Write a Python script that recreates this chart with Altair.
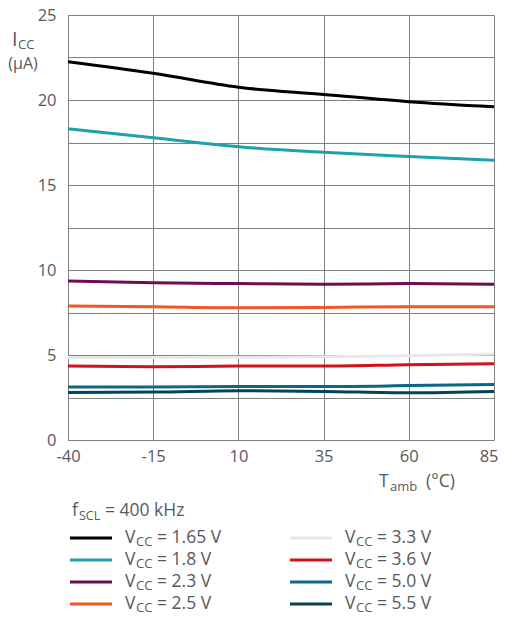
import altair as alt
import pandas as pd

# ---- data ----
temps = [-40, -15, 10, 35, 60, 85]
series = ["VCC = 1.65 V", "VCC = 1.8 V", "VCC = 2.3 V", "VCC = 2.5 V",
          "VCC = 3.3 V", "VCC = 3.6 V", "VCC = 5.0 V", "VCC = 5.5 V"]
vcc_labels = ["1.65 V", "1.8 V", "2.3 V", "2.5 V", "3.3 V", "3.6 V", "5.0 V", "5.5 V"]
i_165 = [22.25, 21.57, 20.75, 20.33, 19.9, 19.6]
i_18 = [18.3, 17.78, 17.25, 16.92, 16.67, 16.45]
i_23 = [9.35, 9.25, 9.2, 9.16, 9.2, 9.16]
i_25 = [7.88, 7.84, 7.78, 7.8, 7.84, 7.84]
i_33 = [4.85, 4.85, 4.87, 4.9, 4.96, 5.06]
i_36 = [4.35, 4.31, 4.35, 4.35, 4.43, 4.49]
i_50 = [3.12, 3.12, 3.15, 3.15, 3.2, 3.27]
i_55 = [2.8, 2.82, 2.9, 2.86, 2.78, 2.86]
x_ticks = [-40, -15, 10, 35, 60, 85]
y_grid = [0, 2.5, 5, 7.5, 10, 12.5, 15, 17.5, 20, 22.5, 25]

# ---- styles ----
colors = ["#000000", "#1fa0ad", "#6e0d52", "#f4562b",
          "#e6e7e8", "#d0121b", "#0a6882", "#05435a"]
FONT = "Open Sans"
TXT = "#58595b"
GRID = "#808080"

all_vals = [i_165, i_18, i_23, i_25, i_33, i_36, i_50, i_55]
rows = []
for s, vals in zip(series, all_vals):
    for t, v in zip(temps, vals):
        rows.append({"series": s, "T": t, "I": v})
df = pd.DataFrame(rows)

color_scale = alt.Scale(domain=series, range=colors)

lines = alt.Chart(df).mark_line(strokeWidth=3, interpolate="monotone").encode(
    x=alt.X("T:Q", scale=alt.Scale(domain=[-40, 85], nice=False),
            axis=alt.Axis(values=x_ticks, title=None, grid=True, gridColor=GRID,
                          gridOpacity=1, domain=False, ticks=False, labelPadding=8,
                          labelFontSize=16.5, labelColor=TXT, labelFont=FONT,
                          labelFlush=False,
                          labelAlign={"condition": {"test": "datum.value == 85", "value": "right"},
                                      "value": "center"},
                          labelOffset={"condition": {"test": "datum.value == 85", "value": 4},
                                       "value": 0},
                          labelExpr="replace(datum.label, '\u2212', '-')")),
    y=alt.Y("I:Q", scale=alt.Scale(domain=[0, 25], nice=False),
            axis=alt.Axis(values=y_grid, title=None, grid=True, gridColor=GRID,
                          gridOpacity=1, domain=False, ticks=False, labelPadding=12,
                          labelFontSize=16.5, labelColor=TXT, labelFont=FONT,
                          labelExpr="datum.value % 5 == 0 ? datum.label : ''")),
    color=alt.Color("series:N", scale=color_scale, legend=None),
    order=alt.Order("series:N"),
)

# ---- manual legend (positions computed here, pixels in plot coordinates) ----
leg_rows = []
for k, (s, lab) in enumerate(zip(series, vcc_labels)):
    col, r = divmod(k, 4)
    x0 = 2 + col * 220
    y0 = 523 + r * 22
    leg_rows.append({"series": s, "lab": "= " + lab, "x1": x0, "x2": x0 + 42,
                     "y": y0, "xv": x0 + 55, "xs": x0 + 66, "xe": x0 + 87})
leg = pd.DataFrame(leg_rows)

px = lambda f: alt.X(f, scale=None, axis=None)
py = lambda f: alt.Y(f, scale=None, axis=None)

leg_rules = alt.Chart(leg).mark_rule(strokeWidth=3).encode(
    x=px("x1:Q"), x2="x2:Q", y=py("y:Q"),
    color=alt.Color("series:N", scale=color_scale, legend=None))
tstyle = dict(font=FONT, color=TXT, baseline="middle", align="left")
leg_v = alt.Chart(leg).mark_text(fontSize=17.5, text="V", **tstyle).encode(
    x=px("xv:Q"), y=py("y:Q"))
leg_cc = alt.Chart(leg).mark_text(fontSize=13, text="CC", dy=4, **tstyle).encode(
    x=px("xs:Q"), y=py("y:Q"))
leg_eq = alt.Chart(leg).mark_text(fontSize=17.5, **tstyle).encode(
    x=px("xe:Q"), y=py("y:Q"), text="lab:N")

# ---- titles / annotations ----
def label(txt, x, y, size, align="left", baseline="alphabetic"):
    return alt.Chart(pd.DataFrame({"t": [txt]})).mark_text(
        font=FONT, color=TXT, fontSize=size, align=align, baseline=baseline
    ).encode(x=alt.value(x), y=alt.value(y), text="t:N")

annots = [
    label("I", -56, 31, 20),
    label("CC", -50, 34, 13),
    label("(µA)", -45, 54, 16, align="center"),
    label("T", 311, 472, 17.5),
    label("amb", 322, 476, 13),
    label("(°C)", 358, 472, 17.5),
    label("f", 4, 501, 17.5),
    label("SCL", 11, 505, 12.5),
    label("= 400 kHz", 37, 501, 17.5),
]

chart = alt.layer(lines, leg_rules, leg_v, leg_cc, leg_eq, *annots).resolve_scale(
    x="independent", y="independent"
).properties(
    width=426, height=425,
    autosize=alt.AutoSizeParams(type="none"),
    padding={"left": 60, "top": 7, "right": 4, "bottom": 172},
).configure_view(stroke=None)

chart.save("out.html", embed_options={"renderer": "svg", "actions": False})
